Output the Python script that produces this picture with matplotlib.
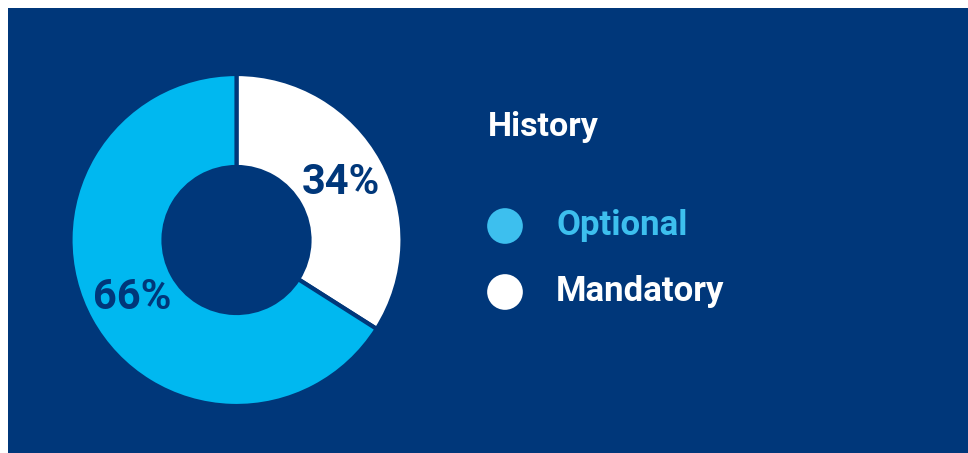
import matplotlib.pyplot as plt
from matplotlib.patches import Rectangle

# donut data, in clockwise order from 12 o'clock
pie_labels = ["Mandatory", "Optional"]
pie_values = [34, 66]
pie_colors = ["#ffffff", "#00b8f0"]

# legend entries, top to bottom
legend_title = "History"
legend_labels = ["Optional", "Mandatory"]
legend_colors = ["#3dbfee", "#ffffff"]

BG = "#00377a"
W, H = 968, 453

fig = plt.figure(figsize=(W / 100, H / 100), dpi=100, facecolor="white")
ax = fig.add_axes([0, 0, 1, 1])
ax.set_facecolor("white")

# blue panel with a thin white margin on top and left
ax.add_patch(Rectangle((8, 0), W - 8, H - 8, facecolor=BG, edgecolor="none", zorder=0))

r_out, r_in = 166, 73
ax.pie(pie_values, colors=pie_colors, startangle=90, counterclock=False,
       radius=r_out, center=(236.5, H - 240),
       autopct="%d%%", pctdistance=(r_out + r_in) / 2 / r_out,
       wedgeprops=dict(width=r_out - r_in, edgecolor=BG, linewidth=3),
       textprops=dict(color=BG, fontsize=30, fontweight="bold", family="Roboto"))

ax.text(488, H - 127, legend_title, color="white", fontsize=24.5, fontweight="bold",
        family="Roboto", ha="left", va="center")
for i, (lab, col) in enumerate(zip(legend_labels, legend_colors)):
    y = H - (226 + i * 66)
    ax.scatter([505], [y], s=660, color=col, edgecolors="none", zorder=3)
    ax.text(556, y, lab, color=col, fontsize=25, fontweight="bold",
            family="Roboto", ha="left", va="center")

ax.set_xlim(0, W)
ax.set_ylim(0, H)
ax.set_aspect("auto")
ax.axis("off")

fig.savefig("out.png", dpi=100, facecolor="white")
